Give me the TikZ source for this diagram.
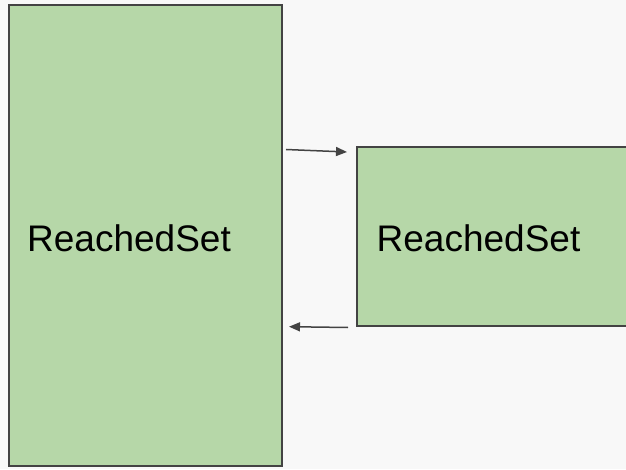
\documentclass[tikz,border=0pt]{standalone}
\usepackage{fontspec}
\setmainfont{Liberation Sans}
\usetikzlibrary{arrows.meta}
\definecolor{bgc}{HTML}{F8F8F8}
\definecolor{boxfill}{HTML}{B6D7A8}
\definecolor{edgec}{HTML}{434343}
\begin{document}
\begin{tikzpicture}[x=1pt,y=1pt,
  box/.style={draw=edgec,fill=boxfill,line width=2.2pt},
  lbl/.style={font=\fontsize{37}{41}\selectfont,inner sep=0pt,anchor=base west,text=black},
  conn/.style={draw=edgec,line width=1.5pt,-{Triangle[length=11pt,width=9pt]}}]
\fill[bgc] (0,0) rectangle (626,469);
\useasboundingbox (0,0) rectangle (626,469);
\node[box,minimum width=273pt,minimum height=461pt,anchor=south west,inner sep=0pt] (left) at (8,2) {};
\node[box,minimum width=280pt,minimum height=179pt,anchor=south west,inner sep=0pt] (right) at (356,142) {};
\node[lbl] (ltxt) at (27,218) {ReachedSet};
\node[lbl] (rtxt) at (376.5,218) {ReachedSet};
\coordinate (a1) at (286,319.5);
\coordinate (a2) at (347,317);
\coordinate (b1) at (348,141.5);
\coordinate (b2) at (289,142.3);
\draw[conn] (a1) -- (a2);
\draw[conn] (b1) -- (b2);
\end{tikzpicture}
\end{document}
